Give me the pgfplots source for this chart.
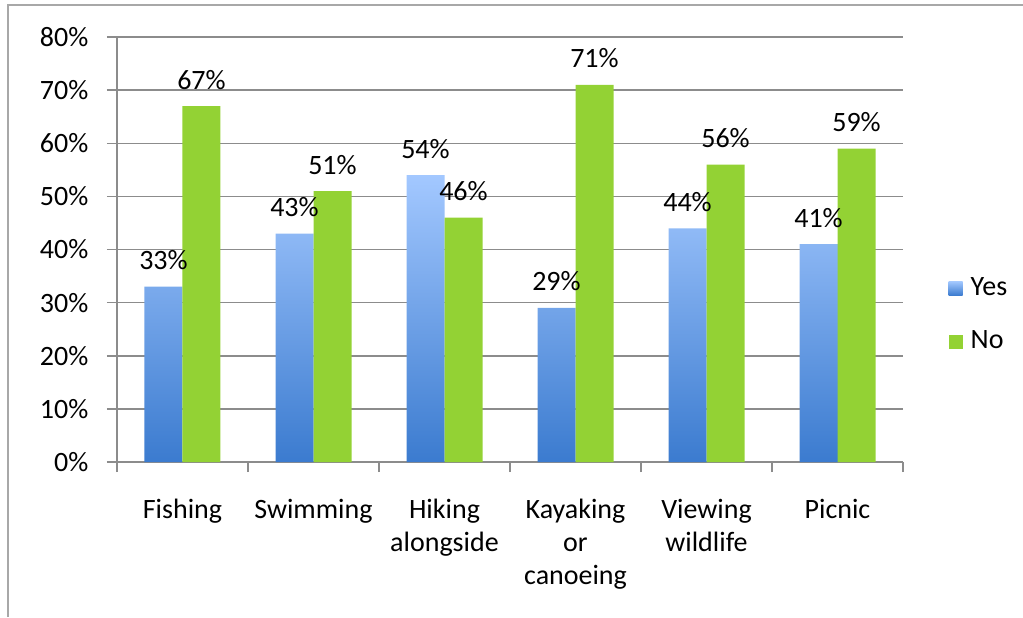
\documentclass[border=0pt]{standalone}
\usepackage{fontspec}
\setmainfont{Carlito}
\usepackage{pgfplots}
\pgfplotsset{compat=1.18}

\definecolor{gridgray}{HTML}{8C8C8C}
\definecolor{framegray}{HTML}{A8A8A8}
\definecolor{yesTop}{HTML}{A3C8FF}
\definecolor{yesBot}{HTML}{3B7BCF}
\definecolor{noGreen}{HTML}{93D234}

\begin{document}
\fontsize{14pt}{16.5pt}\selectfont
\begin{tikzpicture}
\useasboundingbox (0,0) rectangle (511.5pt,308.5pt);
% outer chart frame (only top and left edges are visible)
\draw[framegray, line width=1.2pt] (4pt,0) -- (4pt,306pt) -- (511.5pt,306pt);
\begin{axis}[
    at={(58.5pt,77.5pt)}, anchor=south west,
    scale only axis, width=393pt, height=212.5pt,
    xmin=-0.5, xmax=5.5, ymin=0, ymax=80,
    enlargelimits=false,
    axis lines*=left,
    axis line style={gridgray, line width=0.75pt},
    ymajorgrids, grid style={gridgray, line width=0.75pt},
    tick style={gridgray, line width=0.75pt},
    tick align=outside, major tick length=5pt,
    ytick={0,10,...,80},
    yticklabel={\pgfmathprintnumber{\tick}\%},
    yticklabel style={xshift=-4.5pt},
    /pgf/number format/assume math mode=true,
    xtick={0,...,5},
    xticklabels={Fishing, Swimming, Hiking\\alongside, Kayaking\\or\\canoeing, Viewing\\wildlife, Picnic},
    x tick style={draw=none},
    xticklabel style={align=center, anchor=north, yshift=-8.5pt},
    extra x ticks={-0.5,0.5,...,5.5},
    extra x tick labels={},
    extra x tick style={x tick style={draw=gridgray, line width=0.75pt}},
    ticklabel style={font=\fontsize{14pt}{16.5pt}\selectfont, text=black},
    ybar=0pt, bar width=19pt,
    nodes near coords={\pgfmathprintnumber{\pgfplotspointmeta}\%},
    nodes near coords style={font=\fontsize{14pt}{16.5pt}\selectfont, text=black, anchor=base, inner sep=0pt, yshift=8.5pt},
    legend style={at={(1.05,0.346)}, anchor=west, draw=none, fill=none,
        font=\fontsize{14pt}{16.5pt}\selectfont, row sep=13.5pt,
        nodes={inner sep=1pt}},
    legend cell align=left,
    legend image code/.code={%
        \path[#1, draw=none] (0pt,-3.5pt) rectangle (7pt,3.5pt);
        \path (10pt,0pt);},
]
\addplot[draw=none, top color=yesTop, bottom color=yesBot] coordinates {
    (0,33) (1,43) (2,54) (3,29) (4,44) (5,41)
};
\addlegendentry{Yes}
\addplot[draw=none, fill=noGreen] coordinates {
    (0,67) (1,51) (2,46) (3,71) (4,56) (5,59)
};
\addlegendentry{No}
\end{axis}
\end{tikzpicture}
\end{document}
